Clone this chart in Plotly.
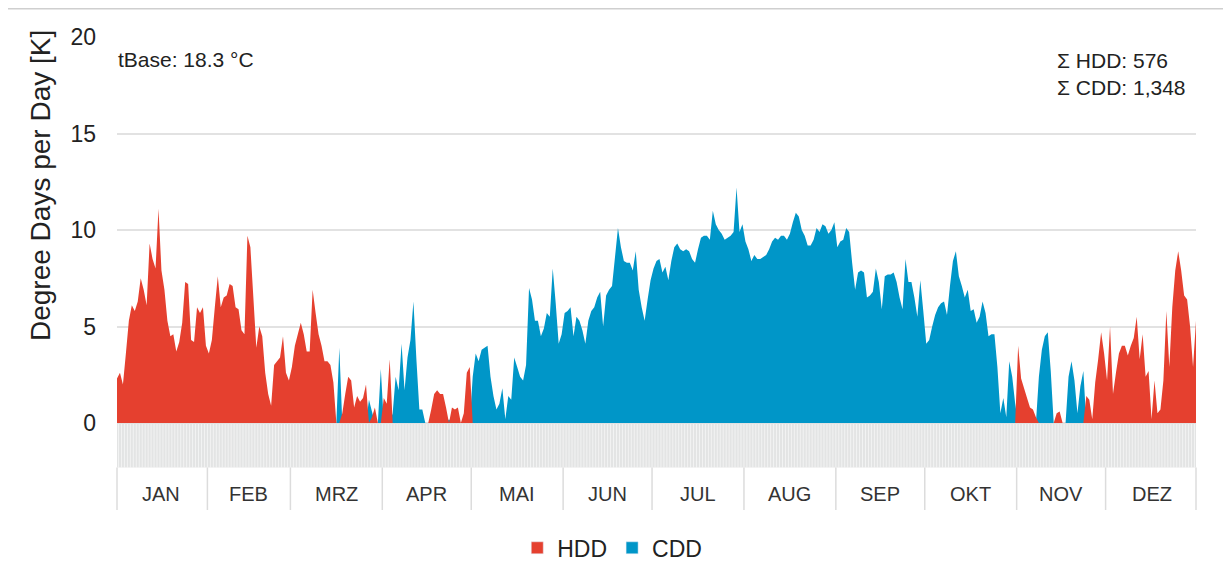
import plotly.graph_objects as go

# ---------------- data ----------------
MONTHS = ["JAN", "FEB", "MRZ", "APR", "MAI", "JUN", "JUL", "AUG", "SEP", "OKT", "NOV", "DEZ"]
MONTH_DAYS = [31, 28, 31, 30, 31, 30, 31, 31, 30, 31, 30, 31]

T_BASE = "18.3 °C"
SUM_HDD = "576"
SUM_CDD = "1,348"

HDD_JAN = [2.3, 2.6, 2.0, 3.6, 5.3, 6.1, 5.8, 6.3, 7.5, 6.9, 6.1, 9.3, 8.5, 8.0, 11.1, 7.9,
           6.9, 5.3, 4.5, 4.6, 3.7, 4.2, 5.2, 7.3, 7.2, 4.3, 4.2, 6.0, 5.7, 6.0, 4.0]
HDD_FEB = [3.6, 4.3, 6.0, 7.6, 6.0, 6.5, 6.6, 7.2, 7.1, 6.0, 5.9, 4.8, 4.6, 9.7, 9.1, 6.5,
           3.9, 5.0, 4.5, 2.6, 1.5, 0.9, 3.0, 3.2, 3.4, 4.5, 2.6, 2.2]
HDD_MAR = [2.9, 4.0, 4.6, 5.2, 4.6, 3.7, 3.7, 6.9, 5.7, 4.6, 4.0, 3.2, 3.2, 3.0, 2.1, 0.0,
           0.0, 0.5, 1.5, 2.4, 2.2, 0.8, 1.4, 1.1, 1.3, 2.0, 0.0, 0.3, 0.8, 0.0, 0.0]
HDD_APR = [1.3, 1.0, 3.3, 0.0, 0.0, 0.0, 0.0, 0.0, 0.0, 0.0, 0.0, 0.0, 0.0, 0.0, 0.0, 0.0,
           0.7, 1.5, 1.7, 1.5, 1.5, 0.8, 0.0, 0.8, 0.7, 0.8, 0.0, 0.5, 2.6, 2.9]
HDD_MAI = [0.0] * 31
HDD_JUN = [0.0] * 30
HDD_JUL = [0.0] * 31
HDD_AUG = [0.0] * 31
HDD_SEP = [0.0] * 30
HDD_OKT = [0.0] * 31
HDD_NOV = [4.0, 2.3, 1.8, 1.3, 0.8, 0.7, 0.3, 0.0, 0.0, 0.0, 0.0, 0.0, 0.0, 0.5, 0.6, 0.0,
           0.0, 0.0, 0.0, 0.0, 0.0, 0.0, 0.0, 1.4, 1.2, 0.2, 2.1, 3.3, 4.7, 3.6]
HDD_DEZ = [2.2, 5.0, 1.5, 2.6, 3.6, 4.0, 4.0, 3.5, 4.0, 4.4, 5.5, 3.3, 4.6, 2.4, 2.7, 0.2,
           2.2, 0.5, 0.7, 2.2, 5.8, 2.9, 6.0, 7.9, 8.9, 7.9, 6.6, 6.4, 5.0, 2.9, 5.3]

CDD_JAN = [0.0] * 31
CDD_FEB = [0.0] * 28
CDD_MAR = [0.0, 0.0, 0.0, 0.0, 0.0, 0.0, 0.0, 0.0, 0.0, 0.0, 0.0, 0.0, 0.0, 0.0, 0.0, 0.0,
           3.9, 0.0, 0.0, 0.0, 0.0, 0.0, 0.0, 0.0, 0.0, 0.0, 1.2, 0.6, 0.0, 0.0, 2.8]
CDD_APR = [0.0, 0.0, 0.0, 0.5, 2.4, 1.7, 4.1, 1.7, 3.4, 4.3, 6.3, 3.3, 0.7, 0.7, 0.0, 0.0,
           0.0, 0.0, 0.0, 0.0, 0.0, 0.0, 0.2, 0.0, 0.0, 0.0, 0.0, 0.0, 0.0, 0.0]
CDD_MAI = [2.4, 3.6, 3.2, 3.8, 3.9, 4.0, 2.4, 1.4, 0.7, 1.0, 1.8, 0.2, 1.4, 1.2, 3.4, 2.9,
           2.4, 2.2, 3.0, 7.0, 6.4, 5.3, 5.3, 4.5, 4.9, 5.7, 5.5, 8.0, 6.2, 4.1, 4.6]
CDD_JUN = [5.7, 5.8, 6.0, 4.5, 5.5, 5.3, 4.8, 4.1, 5.3, 5.8, 6.0, 6.5, 6.8, 5.0, 6.6, 6.9,
           7.1, 8.6, 10.1, 9.1, 8.4, 8.3, 8.3, 7.9, 8.9, 6.9, 6.0, 5.3, 6.4, 7.4]
CDD_JUL = [8.0, 8.4, 8.5, 7.8, 8.1, 7.4, 8.4, 9.1, 9.3, 9.0, 8.9, 9.0, 8.9, 8.5, 8.3, 9.0,
           9.6, 9.7, 9.7, 9.5, 11.0, 10.3, 10.0, 9.8, 9.5, 9.6, 9.7, 9.9, 12.2, 9.9, 10.3]
CDD_AUG = [9.4, 9.0, 8.4, 8.7, 8.5, 8.5, 8.6, 8.7, 9.0, 9.4, 9.6, 9.5, 9.7, 9.7, 9.5, 9.8,
           10.4, 10.9, 10.7, 10.0, 9.7, 9.2, 9.2, 9.5, 10.1, 9.9, 10.3, 10.2, 9.8, 10.0, 10.4]
CDD_SEP = [9.1, 9.4, 9.5, 10.1, 9.9, 8.3, 6.9, 7.8, 7.9, 7.8, 6.5, 6.6, 6.8, 8.0, 7.3, 5.9,
           7.6, 7.7, 7.7, 7.8, 7.3, 6.5, 5.9, 8.5, 7.3, 7.3, 6.5, 5.5, 7.4, 5.8]
CDD_OKT = [4.1, 4.3, 5.0, 5.6, 6.0, 6.2, 6.3, 5.6, 7.1, 8.4, 8.9, 7.6, 7.1, 6.5, 6.9, 5.8,
           5.9, 5.2, 5.5, 6.3, 5.7, 4.5, 4.6, 4.6, 2.9, 0.5, 1.3, 0.3, 3.2, 2.4, 1.0]
CDD_NOV = [0.0, 0.0, 0.0, 0.0, 0.0, 0.0, 0.0, 2.4, 3.8, 4.5, 4.7, 2.7, 0.0, 0.0, 0.0, 0.0,
           0.0, 2.4, 3.2, 2.2, 0.5, 1.9, 2.7, 0.0, 0.0, 0.0, 0.0, 0.0, 0.0, 0.0]
CDD_DEZ = [0.0] * 31

HDD = (HDD_JAN + HDD_FEB + HDD_MAR + HDD_APR + HDD_MAI + HDD_JUN +
       HDD_JUL + HDD_AUG + HDD_SEP + HDD_OKT + HDD_NOV + HDD_DEZ)
CDD = (CDD_JAN + CDD_FEB + CDD_MAR + CDD_APR + CDD_MAI + CDD_JUN +
       CDD_JUL + CDD_AUG + CDD_SEP + CDD_OKT + CDD_NOV + CDD_DEZ)

N_DAYS = sum(MONTH_DAYS)
DAYS = [i + 0.5 for i in range(N_DAYS)]

# ---------------- style ----------------
RED = "#e5402f"
BLUE = "#0096c8"
FONT = "Arial, Liberation Sans, sans-serif"
TXT = "#222222"

Y_BOTTOM = -4.508
STRIP_TOP = -0.05
STRIP_BOT = -2.306

fig = go.Figure()
fig.add_trace(go.Scatter(x=DAYS, y=CDD, mode="none", fill="tozeroy", fillcolor=BLUE,
                         name="CDD", showlegend=False, hoverinfo="x+y"))
fig.add_trace(go.Scatter(x=DAYS, y=HDD, mode="none", fill="tozeroy", fillcolor=RED,
                         name="HDD", showlegend=False, hoverinfo="x+y"))
# legend entries
fig.add_trace(go.Bar(x=[None], y=[None], name="HDD", marker_color=RED, showlegend=True))
fig.add_trace(go.Bar(x=[None], y=[None], name="CDD", marker_color=BLUE, showlegend=True))

shapes = []
# day strip
shapes.append(dict(type="rect", xref="paper", yref="y", x0=0, x1=1, y0=STRIP_TOP, y1=STRIP_BOT,
                   fillcolor="#e3e4e4", line=dict(width=0), layer="above"))
day_path = " ".join(f"M{i},{STRIP_TOP} L{i},{STRIP_BOT}" for i in range(1, N_DAYS))
shapes.append(dict(type="path", xref="x", yref="y", path=day_path,
                   line=dict(color="rgba(255,255,255,0.7)", width=0.8), layer="above"))
# month separators
bounds = [0]
for d in MONTH_DAYS:
    bounds.append(bounds[-1] + d)
sep_path = " ".join(f"M{b},{STRIP_BOT} L{b},{Y_BOTTOM}" for b in bounds[1:-1])
shapes.append(dict(type="path", xref="x", yref="y", path=sep_path,
                   line=dict(color="#dcdcdc", width=1.5), layer="above"))
for px in (0, 1):
    shapes.append(dict(type="line", xref="paper", yref="y", x0=px, x1=px,
                       y0=STRIP_BOT, y1=Y_BOTTOM, line=dict(color="#dcdcdc", width=1.5)))
# top border of the widget
shapes.append(dict(type="line", xref="paper", yref="paper", x0=-0.11, x1=1.04,
                   y0=1.0595, y1=1.0595, line=dict(color="#cfcfcf", width=1.5)))

annotations = []
for m, name in enumerate(MONTHS):
    annotations.append(dict(x=(bounds[m] + bounds[m + 1]) / 2, y=-3.68, xref="x", yref="y",
                            text=name, showarrow=False, xanchor="center", yanchor="middle",
                            font=dict(family=FONT, size=20, color="#333333")))
annotations.append(dict(x=-0.0714, y=0.687, xref="paper", yref="paper",
                        xanchor="center", yanchor="middle",
                        text="Degree Days per Day [K]", textangle=-90, showarrow=False,
                        font=dict(family=FONT, size=28, color=TXT)))
annotations.append(dict(x=-0.0111, y=0.9514, xref="paper", yref="paper", xanchor="left",
                        yanchor="middle", text=f"tBase: {T_BASE}", showarrow=False,
                        bgcolor="white", borderpad=12,
                        font=dict(family=FONT, size=21, color=TXT)))
annotations.append(dict(x=(1045 - 117) / 1079, y=0.9228, xref="paper", yref="paper",
                        xanchor="left", yanchor="middle", align="left",
                        text=f"Σ HDD: {SUM_HDD}<br>Σ CDD: {SUM_CDD}", showarrow=False,
                        bgcolor="white", borderpad=11,
                        font=dict(family=FONT, size=21, color=TXT)))

# page body has an 8px margin: size and margins chosen so the plot area lands at
# x 117..1196, y 37..510 in the browser window
fig.update_layout(
    width=1223, height=554,
    margin=dict(l=109, r=35, t=29, b=52, autoexpand=False),
    paper_bgcolor="white", plot_bgcolor="white",
    font=dict(family=FONT, color=TXT),
    xaxis=dict(range=[0.5, N_DAYS - 0.5], showgrid=False, zeroline=False,
               showticklabels=False, showline=False, fixedrange=True),
    yaxis=dict(range=[Y_BOTTOM, 20], tickvals=[0, 5, 10, 15, 20], showgrid=True,
               gridcolor="#e2e2e2", gridwidth=1.5, zeroline=False, showline=False,
               tickfont=dict(family=FONT, size=23, color=TXT), ticklabelstandoff=20,
               fixedrange=True),
    shapes=shapes,
    annotations=annotations,
    showlegend=True,
    legend=dict(orientation="h", x=0.459, xanchor="center", y=-0.080, yanchor="middle",
                font=dict(family=FONT, size=23, color=TXT), itemwidth=30,
                bgcolor="rgba(0,0,0,0)"),
)

fig.write_html("out.html")
